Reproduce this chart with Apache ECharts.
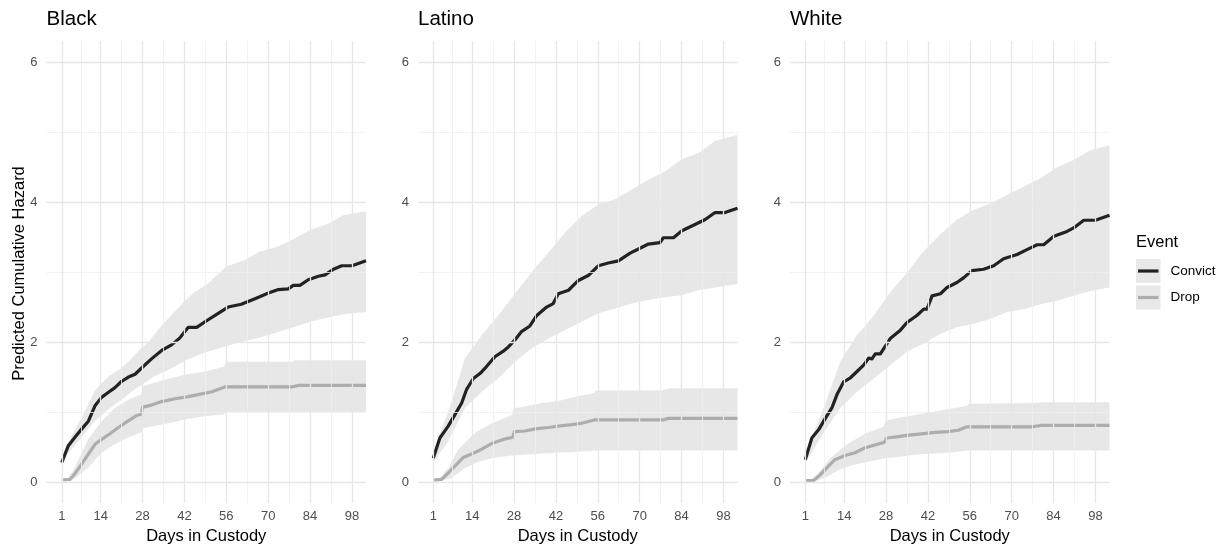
<!DOCTYPE html>
<html><head><meta charset="utf-8">
<script src="https://cdn.jsdelivr.net/npm/echarts@6/dist/echarts.min.js"></script>
<style>html,body{margin:0;padding:0;background:#fff}#c{width:1225px;height:550px}</style>
</head><body><div id="c"></div>
<script>
// ---- labels / ticks ----
const panels = ['Black', 'Latino', 'White'];
const events = ['Convict', 'Drop'];
const xTicks = [1, 14, 28, 42, 56, 70, 84, 98];
const xMinor = [7.5, 21, 35, 49, 63, 77, 91];
const yTicks = [0, 2, 4, 6];
const yMinor = [1, 3, 5];

// ---- Black ----
const blackConvict = [[1,0.28],[3.2,0.52],[5.4,0.64],[7.7,0.76],[9.9,0.87],[12.1,1.09],[14.3,1.21],[16.5,1.28],[18.8,1.35],[21,1.44],[23.3,1.50],[25.5,1.54],[27.7,1.63],[31,1.76],[34.4,1.88],[37.7,1.96],[40.5,2.06],[43.3,2.21],[46.1,2.21],[48.9,2.29],[53.3,2.41],[56.6,2.50],[61,2.54],[65.6,2.62],[70.1,2.70],[73.4,2.75],[76.7,2.76],[78.4,2.81],[80.6,2.81],[83.4,2.89],[86.8,2.94],[89,2.96],[91.8,3.04],[94.6,3.09],[98,3.09],[102.7,3.16]];
const blackConvictHi = [[1,0.33],[3,0.55],[5,0.72],[8,0.95],[10,1.12],[12,1.30],[14,1.40],[17,1.52],[21,1.63],[24,1.75],[27,1.89],[30,2.0],[34,2.22],[38,2.40],[42,2.58],[45,2.70],[50,2.84],[56,3.08],[62,3.17],[67,3.29],[73,3.36],[78,3.46],[84,3.60],[90,3.69],[95,3.81],[102.7,3.87]];
const blackConvictLo = [[1,0.23],[3,0.40],[5,0.50],[8,0.66],[12,0.87],[16,1.02],[21,1.18],[26,1.34],[32,1.51],[38,1.63],[43,1.75],[49,1.85],[55,1.93],[60,1.99],[66,2.05],[73,2.14],[79,2.22],[85,2.30],[90,2.35],[96,2.40],[102.7,2.43]];
const blackDrop = [[1,0.03],[3.8,0.04],[5.4,0.12],[7.7,0.26],[9.9,0.40],[12.1,0.54],[14.3,0.61],[17.1,0.69],[19.9,0.78],[22.7,0.86],[26,0.95],[27.6,0.97],[28,1.07],[31,1.10],[34.4,1.15],[38.9,1.19],[43.3,1.22],[47.8,1.26],[51.2,1.29],[55.6,1.36],[78,1.36],[80,1.38],[102.7,1.38]];
const blackDropHi = [[1,0.03],[3,0.06],[5.4,0.21],[9.9,0.62],[14.3,0.87],[18.8,1.06],[23.3,1.18],[27.6,1.25],[28,1.37],[32,1.42],[38,1.49],[43,1.54],[49,1.58],[55.4,1.65],[55.8,1.72],[78,1.72],[79,1.74],[102.7,1.74]];
const blackDropLo = [[1,0.02],[3.8,0.02],[5.4,0.05],[9.9,0.21],[14.3,0.42],[18.8,0.54],[23.3,0.64],[27.6,0.71],[28,0.77],[32,0.80],[38,0.85],[43,0.90],[49,0.94],[55.4,0.97],[55.8,1.0],[102.7,1.0]];

// ---- Latino ----
const latinoConvict = [[1,0.34],[3.2,0.63],[6,0.80],[8.2,0.96],[10.5,1.13],[12.1,1.32],[14.4,1.48],[16.6,1.55],[18.8,1.65],[21.6,1.79],[24.4,1.87],[26.1,1.93],[28.3,2.03],[30.5,2.15],[33.3,2.23],[35.6,2.38],[38.9,2.50],[41.1,2.55],[42.8,2.69],[46.2,2.74],[49.5,2.88],[52.8,2.95],[56.2,3.09],[59.5,3.13],[62.9,3.16],[66.8,3.27],[69.6,3.33],[72.9,3.40],[76.8,3.42],[77.9,3.49],[81.3,3.49],[84.1,3.59],[88.5,3.68],[91.9,3.75],[95.2,3.85],[98.5,3.85],[102.7,3.91]];
const latinoConvictHi = [[1,0.45],[6,1.0],[11.6,1.77],[17.2,2.10],[22.7,2.38],[28.3,2.69],[33.9,3.0],[39.5,3.28],[45,3.56],[50.6,3.80],[56.2,3.97],[61.8,4.04],[67.3,4.18],[72.9,4.32],[78.5,4.44],[84.1,4.61],[89.6,4.70],[95.2,4.87],[102.7,4.96]];
const latinoConvictLo = [[1,0.28],[6,0.58],[11.6,1.06],[17.2,1.29],[22.7,1.48],[28.3,1.72],[33.9,1.91],[39.5,2.05],[45,2.17],[50.6,2.29],[56.2,2.41],[61.8,2.48],[67.3,2.55],[72.9,2.60],[78.5,2.64],[84.1,2.67],[89.6,2.74],[95.2,2.78],[102.7,2.83]];
const latinoDrop = [[1,0.03],[3.8,0.04],[6,0.13],[8.3,0.23],[11,0.35],[13.8,0.40],[17.2,0.47],[20.5,0.55],[24.4,0.61],[27.6,0.64],[28.1,0.72],[31.7,0.73],[35,0.76],[39.5,0.78],[42.8,0.80],[47.3,0.82],[50.6,0.84],[55.1,0.89],[78,0.89],[79.6,0.91],[102.7,0.91]];
const latinoDropHi = [[1,0.03],[3,0.05],[6,0.20],[9.4,0.47],[14.9,0.70],[20.5,0.84],[27.4,0.96],[27.8,1.05],[31.7,1.08],[37.2,1.13],[42.8,1.16],[48.4,1.22],[54.5,1.27],[55.6,1.31],[77.4,1.31],[79.6,1.34],[102.7,1.34]];
const latinoDropLo = [[1,0.01],[2.7,0.01],[7.1,0.06],[11.6,0.20],[16.1,0.29],[20.5,0.34],[27.2,0.38],[31.7,0.39],[37.2,0.41],[42.8,0.42],[48.4,0.43],[55.1,0.45],[102.7,0.45]];

// ---- White ----
const whiteConvict = [[1,0.32],[3.2,0.63],[5.5,0.75],[7.7,0.91],[9.9,1.06],[11.6,1.25],[13.8,1.43],[16.1,1.49],[18.3,1.58],[20.5,1.67],[22.2,1.77],[23.3,1.76],[24.4,1.83],[26.1,1.83],[29.4,2.05],[32.8,2.17],[35,2.28],[38.3,2.38],[40.6,2.47],[41.7,2.47],[43.4,2.66],[46.2,2.69],[48.4,2.78],[51.7,2.85],[54,2.92],[56.7,3.02],[60.6,3.04],[64,3.09],[67.3,3.19],[71.8,3.25],[75.1,3.32],[78.5,3.39],[80.7,3.39],[84.1,3.51],[88.5,3.58],[90.7,3.63],[94.1,3.74],[98,3.74],[102.7,3.81]];
const whiteConvictHi = [[1,0.42],[7.1,1.06],[12.7,1.72],[18.3,2.10],[23.9,2.38],[29.4,2.71],[35,2.99],[40.6,3.30],[46.2,3.54],[51.7,3.75],[57.3,3.89],[62.9,3.98],[68.4,4.10],[74,4.22],[79.6,4.34],[85.2,4.50],[90.7,4.60],[96.3,4.74],[102.7,4.81]];
const whiteConvictLo = [[1,0.27],[7.1,0.70],[12.7,1.06],[18.3,1.29],[23.9,1.48],[29.4,1.67],[35,1.86],[40.6,1.98],[46.2,2.12],[51.7,2.21],[57.3,2.26],[62.9,2.33],[68.4,2.43],[74,2.47],[79.6,2.54],[85.2,2.59],[90.7,2.66],[96.3,2.73],[102.7,2.78]];
const whiteDrop = [[1,0.02],[3.7,0.02],[5.9,0.10],[8.1,0.20],[10.9,0.32],[14.3,0.38],[17.6,0.42],[21,0.49],[24.3,0.53],[27.5,0.57],[28.2,0.63],[32.1,0.65],[35.4,0.67],[39.9,0.69],[44.4,0.71],[48.8,0.72],[52.2,0.74],[55,0.79],[77,0.79],[80,0.81],[102.7,0.81]];
const whiteDropHi = [[1,0.02],[3,0.04],[5.3,0.13],[9.8,0.36],[15.4,0.55],[21,0.69],[27.1,0.79],[27.9,0.88],[32.1,0.92],[37.7,0.96],[43.3,1.0],[48.8,1.04],[55,1.09],[55.7,1.12],[77.8,1.13],[80,1.14],[102.7,1.14]];
const whiteDropLo = [[1,0.0],[3.1,0.0],[7.6,0.06],[12,0.17],[16.5,0.24],[21,0.28],[27.6,0.34],[32.1,0.36],[37.7,0.39],[43.3,0.41],[48.8,0.42],[55.5,0.45],[102.7,0.45]];

// ---- assembly ----
const panelData = [
  {convict: blackConvict, convictLo: blackConvictLo, convictHi: blackConvictHi, drop: blackDrop, dropLo: blackDropLo, dropHi: blackDropHi},
  {convict: latinoConvict, convictLo: latinoConvictLo, convictHi: latinoConvictHi, drop: latinoDrop, dropLo: latinoDropLo, dropHi: latinoDropHi},
  {convict: whiteConvict, convictLo: whiteConvictLo, convictHi: whiteConvictHi, drop: whiteDrop, dropLo: whiteDropLo, dropHi: whiteDropHi}
];

const FONT = '"Liberation Sans", Arial, Helvetica, sans-serif';
const lineColors = {Convict: '#222222', Drop: '#adadad'};
const bandFill = 'rgba(0,0,0,0.095)';
const gridLefts = [46.5, 418, 790];
const gridW = 319.5, gridTop = 41, gridH = 465;
const X_MIN = -4.1, X_MAX = 102.7, Y_MIN = -0.3, Y_MAX = 6.3;

const chart = echarts.init(document.getElementById('c'), null, {renderer: 'canvas'});

const grids = [], xAxes = [], yAxes = [], titles = [], series = [];

function bandSeries(i, lo, hi) {
  return {
    type: 'custom', xAxisIndex: i, yAxisIndex: i, z: 2, silent: true, animation: false,
    data: [0],
    renderItem: function (params, api) {
      const pts = hi.map(p => api.coord([p[0], p[1]]))
        .concat(lo.slice().reverse().map(p => api.coord([p[0], p[1]])));
      return {type: 'polygon', shape: {points: pts}, style: {fill: bandFill}};
    }
  };
}

panels.forEach((name, i) => {
  grids.push({left: gridLefts[i], top: gridTop, width: gridW, height: gridH});
  xAxes.push({
    type: 'value', gridIndex: i, min: X_MIN, max: X_MAX,
    splitLine: {show: false}, axisLine: {show: false}, axisTick: {show: false},
    axisLabel: {customValues: xTicks, color: '#4d4d4d', fontSize: 13, fontFamily: FONT, margin: 7},
    name: 'Days in Custody', nameLocation: 'middle', nameGap: 24,
    nameTextStyle: {fontSize: 16.5, color: '#000', fontFamily: FONT}
  });
  yAxes.push({
    type: 'value', gridIndex: i, min: Y_MIN, max: Y_MAX,
    splitLine: {show: false}, axisLine: {show: false}, axisTick: {show: false},
    axisLabel: {customValues: yTicks, color: '#4d4d4d', fontSize: 13, fontFamily: FONT, margin: 9}
  });
  titles.push({
    text: name, left: gridLefts[i], top: 9, padding: 0,
    textStyle: {fontSize: 20.5, fontWeight: 'normal', color: '#000', fontFamily: FONT}
  });

  const ml = [];
  xMinor.forEach(v => ml.push({xAxis: v, lineStyle: {color: '#efefef', width: 0.8, type: 'solid'}}));
  yMinor.forEach(v => ml.push({yAxis: v, lineStyle: {color: '#efefef', width: 0.8, type: 'solid'}}));
  xTicks.forEach(v => ml.push({xAxis: v, lineStyle: {color: '#e6e6e6', width: 1.3, type: 'solid'}}));
  yTicks.forEach(v => ml.push({yAxis: v, lineStyle: {color: '#e6e6e6', width: 1.3, type: 'solid'}}));
  series.push({
    type: 'line', xAxisIndex: i, yAxisIndex: i, data: [], z: 1, silent: true, animation: false,
    markLine: {silent: true, symbol: ['none', 'none'], label: {show: false}, animation: false, data: ml}
  });

  const d = panelData[i];
  series.push(bandSeries(i, d.convictLo, d.convictHi));
  series.push(bandSeries(i, d.dropLo, d.dropHi));
  series.push({
    type: 'line', name: 'Drop', xAxisIndex: i, yAxisIndex: i, data: d.drop, z: 3,
    showSymbol: false, silent: true, animation: false,
    lineStyle: {color: lineColors.Drop, width: 3.2, join: 'round'}
  });
  series.push({
    type: 'line', name: 'Convict', xAxisIndex: i, yAxisIndex: i, data: d.convict, z: 4,
    showSymbol: false, silent: true, animation: false,
    lineStyle: {color: lineColors.Convict, width: 3.2, join: 'round'}
  });
});

// legend (drawn as graphic keys like ggplot)
const legendGraphics = [
  {type: 'text', left: 1136, top: 234, style: {text: 'Event', fontSize: 16.5, fontFamily: FONT, fill: '#000'}}
];
events.forEach((ev, k) => {
  const y0 = 259 + k * 26.5;
  legendGraphics.push({type: 'rect', shape: {x: 1136, y: y0, width: 24.5, height: 24}, style: {fill: '#e8e8e8'}});
  legendGraphics.push({type: 'line', shape: {x1: 1138, y1: y0 + 12, x2: 1158.5, y2: y0 + 12}, style: {stroke: lineColors[ev], lineWidth: 3.2}});
  legendGraphics.push({type: 'text', x: 1170.5, y: y0 + 12, style: {text: ev, fontSize: 13.5, fontFamily: FONT, fill: '#000', textVerticalAlign: 'middle', verticalAlign: 'middle'}});
});
legendGraphics.push({
  type: 'text', x: 19, y: 273.5, rotation: Math.PI / 2,
  style: {text: 'Predicted Cumulative Hazard', fontSize: 16.5, fontFamily: FONT, fill: '#000', align: 'center', verticalAlign: 'middle', textAlign: 'center', textVerticalAlign: 'middle'}
});

chart.setOption({
  backgroundColor: '#ffffff',
  animation: false,
  title: titles,
  grid: grids,
  xAxis: xAxes,
  yAxis: yAxes,
  series: series,
  graphic: legendGraphics
});
</script>
</body></html>
